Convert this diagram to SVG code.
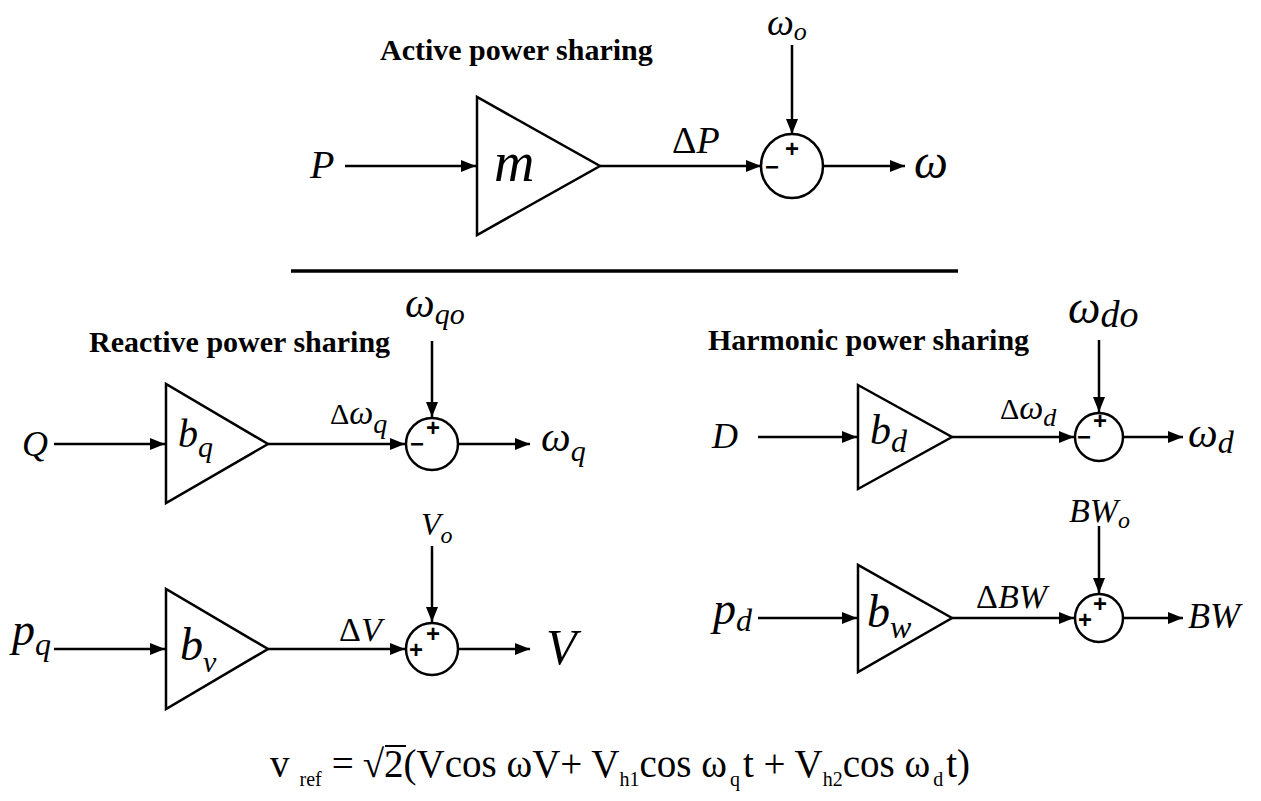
<svg xmlns="http://www.w3.org/2000/svg" width="1261" height="801" viewBox="0 0 1261 801">
<defs>
<marker id="ah" viewBox="0 0 15 12" refX="15" refY="6" markerWidth="15" markerHeight="12" markerUnits="userSpaceOnUse" orient="auto">
<path d="M0,0 L15,6 L0,12 z" fill="#000"/>
</marker>
<style>
.ln{stroke:#000;stroke-width:2.5;fill:none}
.bx{stroke:#000;stroke-width:2.5;fill:#fff}
.t{font-family:"Liberation Serif","Times New Roman",serif;fill:#000}
.i{font-style:italic}
.ttl{font-family:"Liberation Serif","Times New Roman",serif;font-weight:bold;font-size:30px;fill:#000}
.sg{font-family:"Liberation Sans",Arial,sans-serif;font-weight:bold;font-size:24px;text-anchor:middle;fill:#000}
</style>
</defs>
<rect width="1261" height="801" fill="#fff"/>

<g id="connectors">
<path class="ln" d="M345,166 H476" marker-end="url(#ah)"/>
<path class="ln" d="M600,166 H761" marker-end="url(#ah)"/>
<path class="ln" d="M792,45 V134" marker-end="url(#ah)"/>
<path class="ln" d="M823,166 H905" marker-end="url(#ah)"/>
<path class="ln" d="M54,444 H165" marker-end="url(#ah)"/>
<path class="ln" d="M268,444 H405" marker-end="url(#ah)"/>
<path class="ln" d="M432,341 V417" marker-end="url(#ah)"/>
<path class="ln" d="M458,444 H530" marker-end="url(#ah)"/>
<path class="ln" d="M54,649 H165" marker-end="url(#ah)"/>
<path class="ln" d="M268,649 H405" marker-end="url(#ah)"/>
<path class="ln" d="M432,546 V622" marker-end="url(#ah)"/>
<path class="ln" d="M458,649 H530" marker-end="url(#ah)"/>
<path class="ln" d="M758,437 H857" marker-end="url(#ah)"/>
<path class="ln" d="M952,437 H1074" marker-end="url(#ah)"/>
<path class="ln" d="M1099,340 V412" marker-end="url(#ah)"/>
<path class="ln" d="M1123,437 H1183" marker-end="url(#ah)"/>
<path class="ln" d="M758,618 H857" marker-end="url(#ah)"/>
<path class="ln" d="M952,618 H1074" marker-end="url(#ah)"/>
<path class="ln" d="M1099,526 V593" marker-end="url(#ah)"/>
<path class="ln" d="M1123,618 H1183" marker-end="url(#ah)"/>
</g>

<g id="separator">
<path d="M291,271 H958" stroke="#000" stroke-width="3.5" fill="none"/>
</g>

<g id="titles">
<text class="ttl" x="380" y="60">Active power sharing</text>
<text class="ttl" x="89" y="352">Reactive power sharing</text>
<text class="ttl" x="708" y="350">Harmonic power sharing</text>
</g>

<!-- Active power row -->
<g id="in-P"><text class="t i" x="310" y="178" font-size="40">P</text></g>
<g id="gain-m">
<path class="bx" d="M477,97 L477,235 L600,166 Z"/>
<text class="t i" x="494" y="181" font-size="56">m</text>
</g>
<g id="sum-1">
<ellipse class="bx" cx="792" cy="166" rx="31" ry="32"/>
<text class="sg" x="792" y="157">+</text>
<text class="sg" x="772" y="175">−</text>
</g>
<g id="ref-wo"><text class="t i" x="767" y="35" font-size="38">ω<tspan font-size="26" dy="5">o</tspan></text></g>
<g id="lbl-dP"><text class="t" x="672" y="153" font-size="38">Δ<tspan class="i">P</tspan></text></g>
<g id="out-w"><text class="t i" x="914" y="178" font-size="48">ω</text></g>

<!-- Reactive power: frequency row -->
<g id="in-Q"><text class="t i" x="22" y="456" font-size="36">Q</text></g>
<g id="gain-bq">
<path class="bx" d="M166,384 L166,503 L268,444 Z"/>
<text class="t i" x="178" y="447" font-size="40">b<tspan font-size="30" dy="10">q</tspan></text>
</g>
<g id="sum-2">
<circle class="bx" cx="432" cy="444" r="26"/>
<text class="sg" x="433" y="436">+</text>
<text class="sg" x="417" y="452">−</text>
</g>
<g id="ref-wqo"><text class="t i" x="405" y="317" font-size="42">ω<tspan font-size="30" dy="7">qo</tspan></text></g>
<g id="lbl-dwq"><text class="t" x="330" y="424" font-size="30">Δ<tspan class="i" font-size="34">ω</tspan><tspan class="i" font-size="28" dy="9">q</tspan></text></g>
<g id="out-wq"><text class="t i" x="541" y="451" font-size="42">ω<tspan font-size="30" dy="10">q</tspan></text></g>

<!-- Reactive power: voltage row -->
<g id="in-pq"><text class="t i" x="12" y="645" font-size="46">p<tspan font-size="32" dy="10">q</tspan></text></g>
<g id="gain-bv">
<path class="bx" d="M166,589 L166,709 L268,649 Z"/>
<text class="t i" x="180" y="660" font-size="46">b<tspan font-size="30" dy="12">v</tspan></text>
</g>
<g id="sum-3">
<circle class="bx" cx="432" cy="649" r="26"/>
<text class="sg" x="433" y="642">+</text>
<text class="sg" x="416" y="658">+</text>
</g>
<g id="ref-Vo"><text class="t i" x="421" y="535" font-size="32">V<tspan font-size="24" dy="8">o</tspan></text></g>
<g id="lbl-dV"><text class="t" x="339" y="641" font-size="34">Δ<tspan class="i">V</tspan></text></g>
<g id="out-V"><text class="t i" x="546" y="664" font-size="50">V</text></g>

<!-- Harmonic power: distortion row -->
<g id="in-D"><text class="t i" x="712" y="448" font-size="36">D</text></g>
<g id="gain-bd">
<path class="bx" d="M858,385 L858,489 L952,437 Z"/>
<text class="t i" x="870" y="444" font-size="42">b<tspan font-size="32" dy="8">d</tspan></text>
</g>
<g id="sum-4">
<circle class="bx" cx="1099" cy="437" r="24"/>
<text class="sg" x="1100" y="429">+</text>
<text class="sg" x="1084" y="445">−</text>
</g>
<g id="ref-wdo"><text class="t i" x="1068" y="323" font-size="46">ω<tspan font-size="38" dy="4">do</tspan></text></g>
<g id="lbl-dwd"><text class="t" x="1000" y="419" font-size="30">Δ<tspan class="i" font-size="34">ω</tspan><tspan class="i" font-size="26" dy="7">d</tspan></text></g>
<g id="out-wd"><text class="t i" x="1188" y="447" font-size="42">ω<tspan font-size="32" dy="6">d</tspan></text></g>

<!-- Harmonic power: bandwidth row -->
<g id="in-pd"><text class="t i" x="713" y="624" font-size="46">p<tspan font-size="32" dy="7">d</tspan></text></g>
<g id="gain-bw">
<path class="bx" d="M858,565 L858,672 L952,618 Z"/>
<text class="t i" x="867" y="627" font-size="46">b<tspan font-size="32" dy="11">w</tspan></text>
</g>
<g id="sum-5">
<circle class="bx" cx="1099" cy="618" r="24"/>
<text class="sg" x="1100" y="612">+</text>
<text class="sg" x="1085" y="628">+</text>
</g>
<g id="ref-BWo"><text class="t i" x="1069" y="522" font-size="34">BW<tspan font-size="24" dy="6">o</tspan></text></g>
<g id="lbl-dBW"><text class="t" x="976" y="608" font-size="34">Δ<tspan class="i">BW</tspan></text></g>
<g id="out-BW"><text class="t i" x="1188" y="628" font-size="36">BW</text></g>

<!-- Equation -->
<g id="equation">
<text class="t" x="270" y="777" font-size="39">v<tspan font-size="20" dx="10" dy="9">ref</tspan><tspan dx="10" dy="-9">=</tspan><tspan dx="9">√</tspan><tspan>2</tspan><tspan>(Vcos ωV+ V</tspan><tspan font-size="20" dy="9">h1</tspan><tspan dy="-9">cos ω</tspan><tspan font-size="20" dx="3" dy="9">q</tspan><tspan dx="3" dy="-9">t + V</tspan><tspan font-size="20" dy="9">h2</tspan><tspan dy="-9">cos ω</tspan><tspan font-size="20" dx="3" dy="9">d</tspan><tspan dx="3" dy="-9">t)</tspan></text>
<path d="M385,746 H406" stroke="#000" stroke-width="2" fill="none"/>
</g>
</svg>
